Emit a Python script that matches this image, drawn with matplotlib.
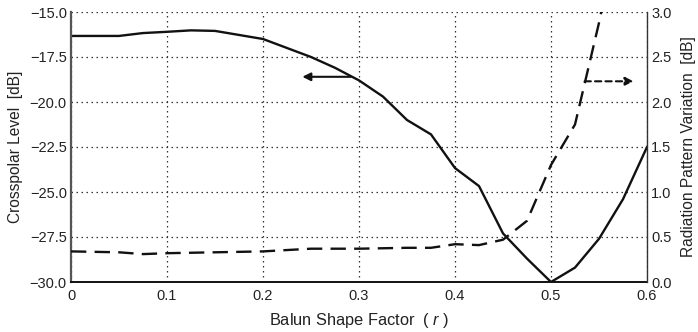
import matplotlib
matplotlib.use("Agg")
import matplotlib.pyplot as plt
import numpy as np

plt.rcParams['font.family'] = ['Liberation Sans', 'DejaVu Sans']
plt.rcParams['mathtext.fontset'] = 'custom'
plt.rcParams['mathtext.rm'] = 'Liberation Sans'
plt.rcParams['mathtext.it'] = 'Liberation Sans:italic'

# Balun shape factor r
r = [0.0, 0.05, 0.075, 0.1, 0.125, 0.15, 0.2, 0.25, 0.275, 0.3, 0.325, 0.35,
     0.375, 0.4, 0.425, 0.45, 0.475, 0.5, 0.525, 0.55, 0.575, 0.6]
# Crosspolar level [dB] (left axis)
crosspolar = [-16.33, -16.33, -16.17, -16.1, -16.02, -16.05, -16.5, -17.5, -18.1,
              -18.8, -19.7, -21.0, -21.8, -23.67, -24.67, -27.3, -28.7, -30.0,
              -29.2, -27.6, -25.4, -22.5]

# Radiation pattern variation [dB] (right axis)
r_var = [0.0, 0.05, 0.075, 0.1, 0.15, 0.2, 0.25, 0.3, 0.35, 0.375, 0.4, 0.425,
         0.45, 0.475, 0.5, 0.525, 0.55, 0.575]
variation = [0.34, 0.33, 0.31, 0.32, 0.33, 0.34, 0.37, 0.37, 0.38, 0.38, 0.42,
             0.41, 0.47, 0.68, 1.30, 1.75, 2.88, 4.2]

x_ticks = [0, 0.1, 0.2, 0.3, 0.4, 0.5, 0.6]
x_ticklabels = ['0', '0.1', '0.2', '0.3', '0.4', '0.5', '0.6']
left_ticks = [-30.0, -27.5, -25.0, -22.5, -20.0, -17.5, -15.0]
right_ticks = [0.0, 0.5, 1.0, 1.5, 2.0, 2.5, 3.0]

fig = plt.figure(figsize=(6.98, 3.32), dpi=100)
ax = fig.add_axes([71/698, 1 - 282/332, (647 - 71)/698, (282 - 12)/332])
ax2 = ax.twinx()

ax.plot(r, crosspolar, color='#111111', lw=1.7, solid_joinstyle='miter')
ax2.plot(r_var, variation, color='#111111', lw=1.7, dashes=(6.5, 3.5))

ax.set_xlim(0, 0.6)
ax.set_ylim(-30, -15)
ax2.set_ylim(0, 3)

ax.set_xticks(x_ticks)
ax.set_xticklabels(x_ticklabels)
ax.set_yticks(left_ticks)
ax.set_yticklabels([f'\u2212{abs(v):.1f}' for v in left_ticks])
ax2.set_yticks(right_ticks)
ax2.set_yticklabels([f'{v:.1f}' for v in right_ticks])

for a in (ax, ax2):
    a.tick_params(length=0, labelsize=10.5, colors='#222222', pad=3)
ax.tick_params(axis='x', pad=5)

ax.grid(True, color='#333333', linestyle=(0, (1.2, 2.8)), linewidth=0.9)

ax.spines['top'].set_visible(False)
ax2.spines['top'].set_visible(False)
ax.spines['left'].set_color('#555555')
ax.spines['left'].set_linewidth(1.6)
ax.spines['bottom'].set_color('#111111')
ax.spines['bottom'].set_linewidth(1.4)
ax2.spines['right'].set_color('#333333')
ax2.spines['right'].set_linewidth(1.0)
ax2.spines['left'].set_visible(False)
ax2.spines['bottom'].set_visible(False)
ax.spines['right'].set_visible(False)

ax.set_xlabel('Balun Shape Factor  ( $\\mathit{r}$ )', fontsize=11.8, color='#222222', labelpad=6)
ax.set_ylabel('Crosspolar Level  [dB]', fontsize=11.2, color='#222222', labelpad=5)
ax2.set_ylabel('Radiation Pattern Variation  [dB]', fontsize=11.2, color='#222222', labelpad=7)

# direction arrows pointing to the relevant axis
ax.annotate('', xy=(0.241, -18.6), xytext=(0.2915, -18.6),
            arrowprops=dict(arrowstyle='-|>', color='#111111', lw=1.5,
                            mutation_scale=12, shrinkA=0, shrinkB=0))
ax2.annotate('', xy=(0.586, 2.23), xytext=(0.535, 2.23),
             arrowprops=dict(arrowstyle='-|>', color='#111111', lw=1.5,
                             linestyle=(0, (3, 2)), mutation_scale=12,
                             shrinkA=0, shrinkB=0))

fig.savefig('out.png', dpi=100)
